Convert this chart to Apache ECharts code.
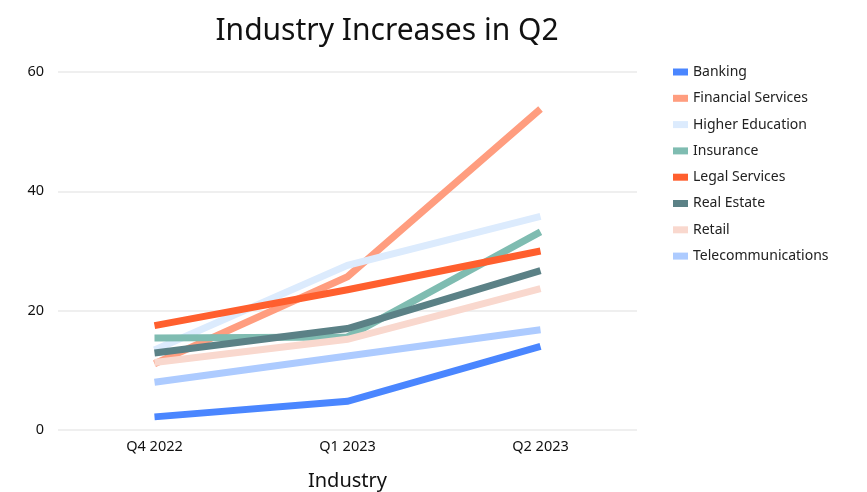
<!DOCTYPE html>
<html><head><meta charset="utf-8">
<script src="https://cdn.jsdelivr.net/npm/echarts@6/dist/echarts.min.js"></script>
<style>html,body{margin:0;padding:0;background:#fff}#c{width:867px;height:492px}</style>
</head><body><div id="c"></div>
<script>
const categories = ['Q4 2022', 'Q1 2023', 'Q2 2023'];
const yTicks = [0, 20, 40, 60];
const banking = [2.2, 4.8, 14.0];
const financialServices = [11.1, 25.7, 53.8];
const higherEducation = [13.4, 27.6, 35.8];
const insurance = [15.4, 15.6, 33.2];
const legalServices = [17.5, 23.5, 30.0];
const realEstate = [12.9, 17.0, 26.7];
const retail = [11.3, 15.2, 23.7];
const telecommunications = [8.0, 12.4, 16.8];

const seriesNames = ['Banking','Financial Services','Higher Education','Insurance','Legal Services','Real Estate','Retail','Telecommunications'];
const seriesData = [banking, financialServices, higherEducation, insurance, legalServices, realEstate, retail, telecommunications];
const colors = ['#4a86ff','#ff9d7f','#dcebfd','#7fbcb1','#ff5f2e','#5b8186','#f9d8ce','#adcbff'];
const font = '"Noto Sans", sans-serif';

const chart = echarts.init(document.getElementById('c'));
chart.setOption({
  animation: false,
  color: colors,
  title: {
    text: 'Industry Increases in Q2',
    left: 382, top: 11, textAlign: 'center',
    textStyle: { fontFamily: font, fontSize: 30, fontWeight: 'normal', color: '#111' }
  },
  legend: {
    orient: 'vertical', left: 668, top: 60,
    itemWidth: 15, itemHeight: 7, itemGap: 12.3,
    icon: 'rect',
    textStyle: { fontFamily: font, fontSize: 14, color: '#222' },
    data: seriesNames
  },
  grid: { left: 58, right: 230, top: 72, bottom: 62, containLabel: false, outerBoundsMode: 'none' },
  xAxis: {
    type: 'category', data: categories,
    name: 'Industry', nameLocation: 'middle', nameGap: 41,
    nameTextStyle: { fontFamily: font, fontSize: 20, color: '#111' },
    axisLine: { show: false }, axisTick: { show: false },
    axisLabel: { fontFamily: font, fontSize: 14.5, color: '#111', margin: 9 }
  },
  yAxis: {
    type: 'value', min: yTicks[0], max: yTicks[yTicks.length-1], interval: 20,
    axisLine: { show: false }, axisTick: { show: false },
    axisLabel: { fontFamily: font, fontSize: 14.5, color: '#111', margin: 14 },
    splitLine: { lineStyle: { color: '#efefef', width: 2 } }
  },
  series: seriesNames.map((n, i) => ({
    name: n, type: 'line', data: seriesData[i],
    showSymbol: false, symbol: 'none',
    lineStyle: { width: 7, cap: 'butt', join: 'miter' }
  }))
});
</script></body></html>
